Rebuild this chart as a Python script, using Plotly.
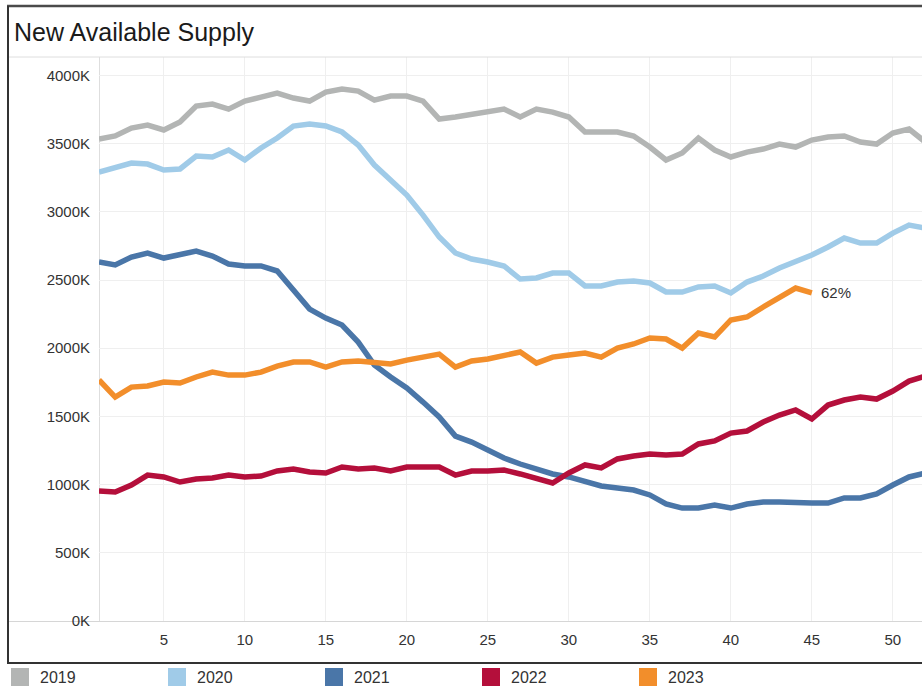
import plotly.graph_objects as go

# ---------------- data (values in thousands) ----------------
weeks = list(range(1, 53))
series_names = ["2019", "2020", "2021", "2022", "2023"]

supply_2019 = [3534, 3556, 3614, 3636, 3600, 3658, 3775, 3790, 3753, 3812,
               3841, 3871, 3834, 3812, 3878, 3900, 3885, 3819, 3849, 3849,
               3812, 3680, 3695, 3717, 3731, 3753, 3695, 3753, 3731, 3695,
               3585, 3585, 3585, 3556, 3475, 3380, 3431, 3541, 3453, 3402,
               3438, 3460, 3497, 3475, 3526, 3548, 3556, 3512, 3497, 3578,
               3607, 3512]
supply_2020 = [3292, 3328, 3358, 3350, 3306, 3314, 3409, 3402, 3453, 3380,
               3468, 3541, 3629, 3644, 3629, 3585, 3490, 3343, 3233, 3123,
               2976, 2815, 2698, 2654, 2632, 2603, 2507, 2515, 2551, 2551,
               2456, 2456, 2485, 2493, 2478, 2412, 2412, 2449, 2456, 2405,
               2485, 2529, 2588, 2632, 2683, 2742, 2808, 2771, 2771, 2844,
               2903, 2881]
supply_2021 = [2632, 2610, 2668, 2698, 2661, 2690, 2712, 2676, 2617, 2603,
               2603, 2566, 2427, 2287, 2221, 2170, 2045, 1877, 1789, 1708,
               1605, 1496, 1356, 1312, 1254, 1195, 1151, 1114, 1078, 1056,
               1019, 990, 975, 960, 924, 858, 828, 828, 850, 828,
               858, 872, 872, 865, 865, 865, 902, 902, 931, 997,
               1056, 1085]
supply_2022 = [953, 946, 997, 1070, 1056, 1019, 1041, 1048, 1070, 1056,
               1063, 1100, 1114, 1092, 1085, 1129, 1114, 1122, 1100, 1129,
               1129, 1129, 1070, 1100, 1100, 1107, 1078, 1041, 1012, 1085,
               1144, 1122, 1188, 1210, 1224, 1217, 1224, 1298, 1320, 1378,
               1393, 1459, 1510, 1547, 1481, 1583, 1620, 1642, 1627, 1686,
               1759, 1796]
supply_2023 = [1767, 1642, 1715, 1723, 1752, 1745, 1789, 1825, 1803, 1803,
               1825, 1869, 1899, 1899, 1862, 1899, 1906, 1899, 1884, 1913,
               1935, 1957, 1862, 1906, 1921, 1943, 1972, 1891, 1935, 1950,
               1965, 1935, 2001, 2031, 2075, 2067, 2001, 2111, 2082, 2207,
               2229, 2302, 2368, 2441, 2405]
end_label_2023 = "62%"

x_tick_vals = [5, 10, 15, 20, 25, 30, 35, 40, 45, 50]
y_tick_vals = [0, 500, 1000, 1500, 2000, 2500, 3000, 3500, 4000]
y_tick_text = ["0K", "500K", "1000K", "1500K", "2000K", "2500K", "3000K", "3500K", "4000K"]

# ---------------- styling ----------------
colors = {"2019": "#B3B5B4", "2020": "#A0CBE8", "2021": "#4A76A8",
          "2022": "#B40F3B", "2023": "#F28E2B"}
FONT = "Liberation Sans, Arial, Helvetica, sans-serif"

W, H = 922, 690
L, R_EDGE, T, B = 99, 922, 57, 621  # plot area in pixels


def px_x(p):
    return (p - L) / (R_EDGE - L)


def px_y(p):
    return (B - p) / (B - T)


fig = go.Figure()
all_series = [supply_2019, supply_2020, supply_2021, supply_2022, supply_2023]
for name, vals in zip(series_names, all_series):
    fig.add_trace(go.Scatter(
        x=weeks[:len(vals)], y=vals, mode="lines", name=name,
        line=dict(color=colors[name], width=5.5),
        showlegend=False, hoverinfo="x+y+name"))

# legend entries as square swatches
for name in series_names:
    fig.add_trace(go.Scatter(
        x=[None], y=[None], mode="markers", name=name,
        marker=dict(symbol="square", size=16, color=colors[name],
                    line=dict(color=colors[name], width=2)),
        showlegend=True))

# end label for 2023
fig.add_annotation(x=weeks[len(supply_2023) - 1], y=supply_2023[-1],
                   text=end_label_2023, showarrow=False, xanchor="left",
                   xshift=7, font=dict(family=FONT, size=15, color="#333333"))

shapes = []
def hline(py, x0, x1, color, width, layer="above"):
    shapes.append(dict(type="line", xref="paper", yref="paper", layer=layer,
                       x0=px_x(x0), x1=px_x(x1), y0=px_y(py), y1=px_y(py),
                       line=dict(color=color, width=width)))

def vline(px, y0, y1, color, width, layer="above"):
    shapes.append(dict(type="line", xref="paper", yref="paper", layer=layer,
                       x0=px_x(px), x1=px_x(px), y0=px_y(y0), y1=px_y(y1),
                       line=dict(color=color, width=width)))

hline(57, 8, 930, "#DEDEDE", 1)
vline(99.5, 57, 621, "#DEDEDE", 1, "below")
hline(621.5, 8, 930, "#D6D6D6", 1, "below")
hline(6, 7, 930, "#4A4A4A", 2.5)
vline(8, 6, 663, "#333333", 2)
hline(663, 7, 930, "#333333", 2)

fig.update_layout(
    width=W, height=H,
    margin=dict(l=L, r=W - R_EDGE, t=T, b=H - B, pad=0),
    paper_bgcolor="white", plot_bgcolor="white",
    font=dict(family=FONT, size=15, color="#333333"),
    title=dict(text="New Available Supply", x=14 / W, xanchor="left",
               y=1 - 32 / H, yanchor="middle", xref="container", yref="container",
               font=dict(family=FONT, size=25, color="#1A1A1A")),
    xaxis=dict(range=[1, 51.8], tickvals=x_tick_vals, showgrid=True,
               gridcolor="#EFEFEF", gridwidth=1, zeroline=False,
               showline=False, ticks="", ticklabelstandoff=8,
               tickfont=dict(size=15, color="#333333")),
    yaxis=dict(range=[0, 4135], tickvals=y_tick_vals, ticktext=y_tick_text,
               showgrid=True, gridcolor="#EFEFEF", gridwidth=1,
               zeroline=False, showline=False, ticks="",
               ticklabelstandoff=8, tickfont=dict(size=15, color="#333333")),
    legend=dict(orientation="h", xref="container", yref="container",
                x=0, xanchor="left", y=1 - 677 / H, yanchor="middle",
                entrywidth=112, entrywidthmode="pixels", itemwidth=30,
                font=dict(family=FONT, size=16, color="#333333"),
                bgcolor="rgba(0,0,0,0)", tracegroupgap=0),
    shapes=shapes,
    showlegend=True,
)

fig.write_html(
    "out.html",
    config={"displayModeBar": False},
    post_script="document.body.style.margin='0px';document.body.style.overflow='hidden';",
)
